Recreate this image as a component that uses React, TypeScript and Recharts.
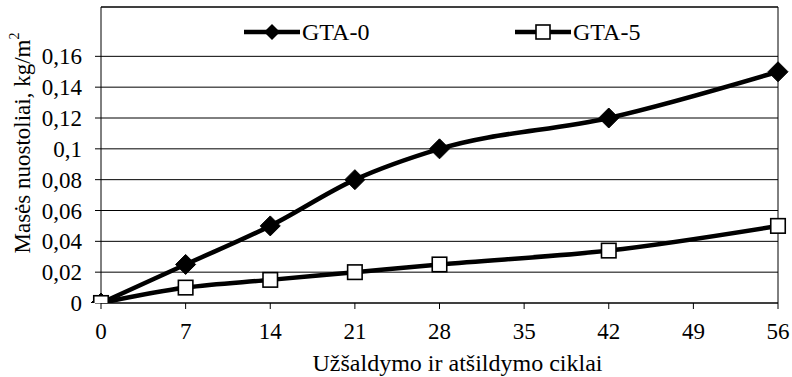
import React from 'react';
import { LineChart, Line, XAxis, YAxis, CartesianGrid, ReferenceLine } from 'recharts';

const cycles = [0, 7, 14, 21, 28, 42, 56];
const gta0 = [0, 0.025, 0.05, 0.08, 0.1, 0.12, 0.15];
const gta5 = [0, 0.01, 0.015, 0.02, 0.025, 0.034, 0.05];
const xTicks = [0, 7, 14, 21, 28, 35, 42, 49, 56];
const yTicks = [0, 0.02, 0.04, 0.06, 0.08, 0.1, 0.12, 0.14, 0.16];
const seriesNames = ['GTA-0', 'GTA-5'];
const xTitle = 'Užšaldymo ir atšildymo ciklai';
const yTitle = 'Masės nuostoliai, kg/m';

const data = cycles.map((c, i) => ({ c, g0: gta0[i], g5: gta5[i] }));

const FONT = 'Liberation Serif';

const Diamond = (props: any) => {
  const { cx, cy } = props;
  if (cx == null || cy == null) return null;
  const r = 10;
  return <polygon points={`${cx},${cy - r} ${cx + r},${cy} ${cx},${cy + r} ${cx - r},${cy}`} fill="#000" stroke="#000" strokeWidth={1} />;
};

const Square = (props: any) => {
  const { cx, cy } = props;
  if (cx == null || cy == null) return null;
  const s = 14.5;
  return <rect x={cx - s / 2} y={cy - s / 2} width={s} height={s} fill="#fff" stroke="#000" strokeWidth={1.6} />;
};

const YLabel = (props: any) => {
  const vb = props.viewBox || { x: 0, y: 7, width: 101, height: 296 };
  const cx = 22;
  const cy = vb.y + vb.height / 2 - 12;
  return (
    <text x={cx} y={cy} transform={`rotate(-90 ${cx} ${cy})`} textAnchor="middle" dominantBaseline="central" fontFamily={FONT} fontSize={23} fill="#000">
      <tspan>{yTitle}</tspan>
      <tspan dy={-8} fontSize={14}>2</tspan>
    </text>
  );
};

const XLabel = (props: any) => {
  const vb = props.viewBox || { x: 101, y: 303, width: 677, height: 74 };
  return (
    <text x={vb.x + vb.width / 2 + 18} y={371} textAnchor="middle" fontFamily={FONT} fontSize={24} fill="#000">
      {xTitle}
    </text>
  );
};

const LegendOverlay = () => (
  <svg width={792} height={60} style={{ position: 'absolute', left: 0, top: 0, pointerEvents: 'none' }}>
    <line x1={244} y1={32} x2={300} y2={32} stroke="#000" strokeWidth={4.5} />
    <polygon points="272,24 280,32 272,40 264,32" fill="#000" />
    <text x={302} y={40} fontFamily={FONT} fontSize={24} fill="#000">{seriesNames[0]}</text>
    <line x1={515} y1={32} x2={571} y2={32} stroke="#000" strokeWidth={4.5} />
    <rect x={536} y={25} width={14} height={14} fill="#fff" stroke="#000" strokeWidth={1.6} />
    <text x={573} y={40} fontFamily={FONT} fontSize={24} fill="#000">{seriesNames[1]}</text>
  </svg>
);

export default function App() {
  return (
    <div style={{ position: 'absolute', left: 0, top: 0, width: 792, height: 377, background: '#fff', fontFamily: FONT }}>
      <LineChart width={792} height={377} data={data} margin={{ top: 7, right: 14, left: 0, bottom: 0 }} style={{ fontFamily: FONT }}>
        <CartesianGrid vertical={false} stroke="#000" strokeWidth={1} />
        <XAxis
          dataKey="c"
          type="number"
          domain={[0, 56]}
          ticks={xTicks}
          interval={0}
          height={74}
          tickSize={6}
          tickMargin={14}
          stroke="#000"
          tick={{ fill: '#000', fontFamily: FONT, fontSize: 23 }}
          label={<XLabel />}
        />
        <YAxis
          type="number"
          domain={[0, 0.192]}
          ticks={yTicks}
          interval={0}
          width={101}
          tickSize={6}
          tickMargin={13}
          stroke="#000"
          allowDataOverflow
          tickFormatter={(v: number) => String(v).replace('.', ',')}
          tick={{ fill: '#000', fontFamily: FONT, fontSize: 23 }}
          label={<YLabel />}
        />
        <ReferenceLine y={0.192} stroke="#000" strokeWidth={1} />
        <ReferenceLine x={56} stroke="#000" strokeWidth={1} />
        <Line type="monotone" dataKey="g0" name={seriesNames[0]} stroke="#000" strokeWidth={4.5} dot={<Diamond />} isAnimationActive={false} />
        <Line type="monotone" dataKey="g5" name={seriesNames[1]} stroke="#000" strokeWidth={4.5} dot={<Square />} isAnimationActive={false} />
      </LineChart>
      <LegendOverlay />
    </div>
  );
}
